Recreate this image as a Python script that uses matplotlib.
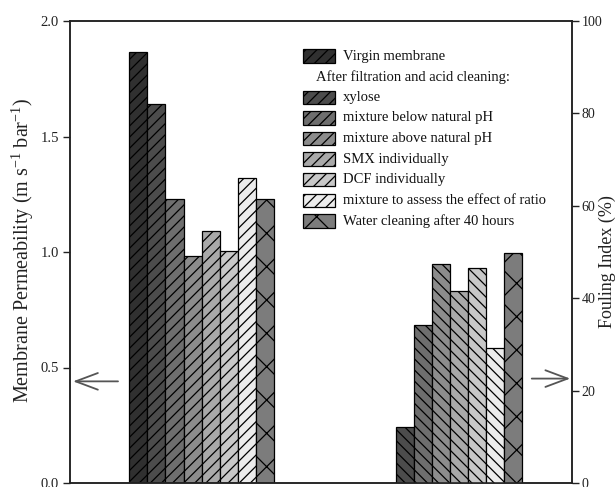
import matplotlib
matplotlib.use("Agg")
import matplotlib.pyplot as plt
from matplotlib.patches import Rectangle

plt.rcParams["font.family"] = ["Liberation Serif", "DejaVu Serif"]
plt.rcParams["mathtext.fontset"] = "custom"
plt.rcParams["mathtext.rm"] = "Liberation Serif"
plt.rcParams["mathtext.it"] = "Liberation Serif:italic"
plt.rcParams["hatch.linewidth"] = 0.9

# Membrane conditions (legend order)
conditions = [
    "Virgin membrane",
    "xylose",
    "mixture below natural pH",
    "mixture above natural pH",
    "SMX individually",
    "DCF individually",
    "mixture to assess the effect of ratio",
    "Water cleaning after 40 hours",
]
legend_header = "After filtration and acid cleaning:"

# Membrane permeability (m s^-1 bar^-1), one value per condition
permeability = [1.867, 1.64, 1.23, 0.983, 1.09, 1.003, 1.32, 1.23]

# Fouling index (%), virgin membrane has none
fouling_conditions = conditions[1:]
fouling_index = [12.2, 34.1, 47.5, 41.6, 46.5, 29.2, 49.8]

fill_colors = ["#303030", "#4c4c4c", "#6e6e6e", "#8c8c8c",
               "#a9a9a9", "#c8c8c8", "#ececec", "#7c7c7c"]
perm_hatches = ["///"] * 7 + ["x"]
fi_hatches = ["\\\\\\"] * 6 + ["x"]

left_ticks = [0.0, 0.5, 1.0, 1.5, 2.0]
right_ticks = [0, 20, 40, 60, 80, 100]

fig = plt.figure(figsize=(6.16, 4.87), dpi=100)
ax = fig.add_axes([70 / 616, 4 / 487, 502 / 616, 462 / 487])
ax2 = ax.twinx()

bar_w = 1.0
group_offset = 13.76

# Permeability bars (left axis)
for i, (cond, val) in enumerate(zip(conditions, permeability)):
    ax.bar(i, val, width=bar_w, color=fill_colors[i], edgecolor="black",
           linewidth=0.9, hatch=perm_hatches[i], zorder=2)

# Fouling index bars (right axis)
for j, (cond, val) in enumerate(zip(fouling_conditions, fouling_index)):
    k = j + 1
    ax2.bar(group_offset + k, val, width=bar_w, color=fill_colors[k],
            edgecolor="black", linewidth=0.9, hatch=fi_hatches[j], zorder=2)

ax.set_xlim(-3.79, 24.02)
ax.set_ylim(0, 2.0)
ax2.set_ylim(0, 100)

ax.set_xticks([])
ax.set_yticks(left_ticks)
ax.set_yticklabels([f"{t:.1f}" for t in left_ticks])
ax2.set_yticks(right_ticks)
ax2.set_yticklabels([str(t) for t in right_ticks])
ax.tick_params(axis="y", direction="out", length=5, width=1,
               labelsize=10.5, colors="#222222", pad=3)
ax2.tick_params(axis="y", direction="out", length=5, width=1,
                labelsize=10, colors="#222222", pad=2)
for a in (ax, ax2):
    for s in a.spines.values():
        s.set_linewidth(1.1)
        s.set_color("#222222")

# Axis titles
fig.text(23 / 616, 1 - 250 / 487,
         "Membrane Permeability (m s$^{-1}$ bar$^{-1}$)", fontsize=14.5,
         rotation=90, ha="center", va="center", color="#222222")
fig.text(607 / 616, 1 - 262 / 487, "Fouling Index (%)", fontsize=13,
         rotation=90, ha="center", va="center", color="#222222")

# Arrows marking which axis each group belongs to
arrow_style = dict(arrowstyle="->,head_length=1.6,head_width=0.6",
                   color="#555555", lw=1.3, shrinkA=0, shrinkB=0)
ax.annotate("", xy=(-3.62, 0.44), xytext=(-1.13, 0.44),
            arrowprops=arrow_style)
ax2.annotate("", xy=(23.92, 22.6), xytext=(21.79, 22.6),
             arrowprops=arrow_style)

# Legend drawn as swatches with labels
patch_x, patch_w, patch_h = 0.4635, 0.0643, 0.029
text_x, header_x = 0.544, 0.49
row_y = 0.924
row_step = 0.0446
rows = [("patch", 0)] + [("header", None)] + [("patch", i) for i in range(1, 8)]
for n, (kind, idx) in enumerate(rows):
    y = row_y - n * row_step
    if kind == "header":
        ax.text(header_x, y, legend_header, transform=ax.transAxes,
                fontsize=10.5, va="center", ha="left", color="#111111")
        continue
    ax.add_patch(Rectangle((patch_x, y - patch_h / 2), patch_w, patch_h,
                           transform=ax.transAxes, facecolor=fill_colors[idx],
                           edgecolor="black", linewidth=0.9,
                           hatch=perm_hatches[idx], zorder=3))
    ax.text(text_x, y, conditions[idx], transform=ax.transAxes,
            fontsize=10.5, va="center", ha="left", color="#111111")

fig.savefig("out.png", dpi=100)
